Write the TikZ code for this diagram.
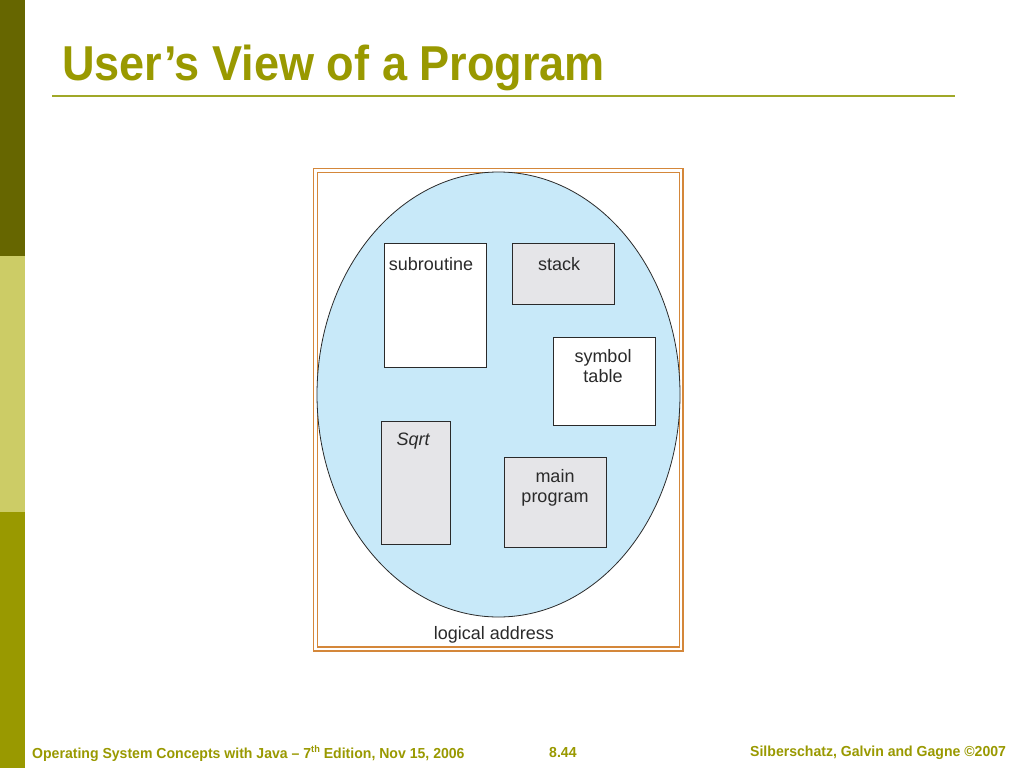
\documentclass[tikz,border=0pt]{standalone}
\usepackage{fontspec}
\setmainfont{Liberation Sans}
\usetikzlibrary{shapes.geometric}
\definecolor{olivedark}{HTML}{666600}
\definecolor{olivelight}{HTML}{CCCC66}
\definecolor{olivemid}{HTML}{999900}
\definecolor{titlecol}{HTML}{999900}
\definecolor{linecol}{HTML}{A0A828}
\definecolor{framecol}{HTML}{D4873A}
\definecolor{blobcol}{HTML}{C8E9F9}
\definecolor{graybox}{HTML}{E5E5E8}
\definecolor{txtcol}{HTML}{2A2A2A}
\newcommand{\supth}{\raisebox{0.4em}{\fontsize{9.5}{9.5}\selectfont th}}
\begin{document}
\begin{tikzpicture}[x=1pt,y=-1pt,
  segbox/.style={draw=txtcol,line width=1pt},
  boxlabel/.style={font=\fontsize{18}{20}\selectfont,text=txtcol,inner sep=0pt,align=center},
  foot/.style={font=\bfseries\fontsize{14.5}{16}\selectfont,text=titlecol,inner sep=0pt,anchor=base west,xscale=0.97}]
\useasboundingbox (0,0) rectangle (1024,768);
\fill[white] (0,0) rectangle (1024,768);
% left bar
\fill[olivedark] (0,0) rectangle (25,256);
\fill[olivelight] (0,256) rectangle (25,512);
\fill[olivemid] (0,512) rectangle (25,768);
% title
\node[font=\bfseries\fontsize{49}{52}\selectfont,text=titlecol,inner sep=0pt,anchor=base west,xscale=0.92] (title) at (62,80) {User’s View of a Program};
\coordinate (tl) at (52,96);
\coordinate (tr) at (955,96);
\draw[linecol,line width=2pt] (tl) -- (tr);
% frame
\draw[framecol,line width=1.4pt] (313.5,168.5) rectangle (683,651);
\draw[framecol,line width=1.2pt] (317.5,172.5) rectangle (679.5,647);
% blob
\node[ellipse,draw=txtcol,fill=blobcol,line width=0.8pt,minimum width=363pt,minimum height=445pt,inner sep=0pt] (blob) at (498.5,394.5) {};
% boxes
\draw[segbox,fill=white] (384,243) rectangle (486,367);
\node[boxlabel] (sub) at (431,264) {subroutine};
\draw[segbox,fill=graybox] (512,243) rectangle (614,304);
\node[boxlabel] (stk) at (559,264) {stack};
\draw[segbox,fill=white] (553,337) rectangle (655,425);
\node[boxlabel] (sym) at (603,366) {symbol\\table};
\draw[segbox,fill=graybox] (381,421) rectangle (450,544);
\node[boxlabel,font=\itshape\fontsize{18}{20}\selectfont] (sqrt) at (413,441) {Sqrt};
\draw[segbox,fill=graybox] (504,457) rectangle (606,547);
\node[boxlabel] (mainp) at (555,488) {main\\program};
\node[boxlabel] (la) at (494,635) {logical address};
% footer
\node[foot] (f1) at (32,758) {Operating System Concepts with Java – 7\supth{} Edition, Nov 15, 2006};
\node[foot] (f2) at (549,757) {8.44};
\node[foot] (f3) at (750,756) {Silberschatz, Galvin and Gagne ©2007};
\end{tikzpicture}
\end{document}
